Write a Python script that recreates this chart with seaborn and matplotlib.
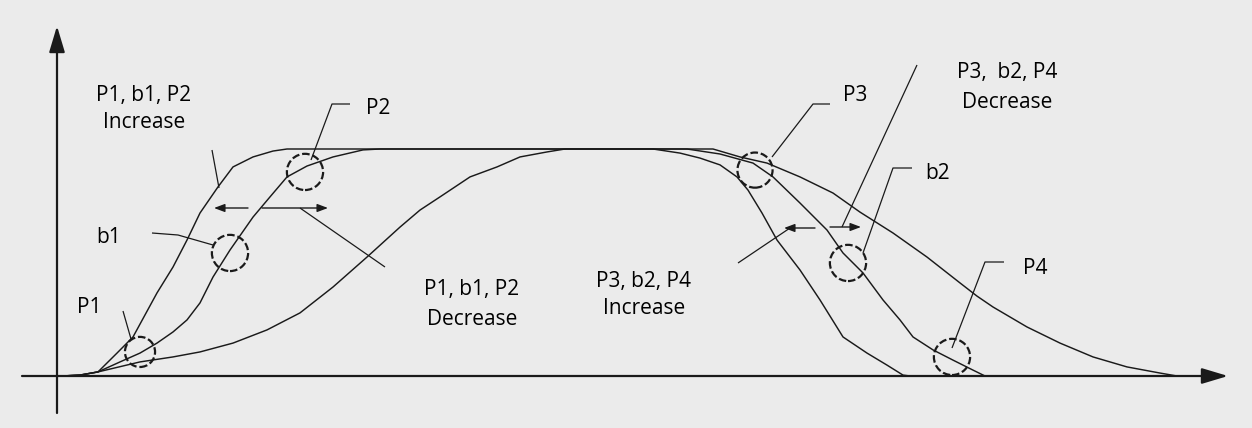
import matplotlib
matplotlib.use("Agg")
import matplotlib.pyplot as plt
import pandas as pd
import seaborn as sns

# Profile 1: steepest rise and steepest fall
rise_1_t = [0.4, 2.2, 4.0, 5.9, 7.5, 9.9, 11.5, 12.9, 14.2, 16.0, 17.5, 19.5, 21.5, 22.9]
rise_1_v = [0.0, 0.004, 0.018, 0.101, 0.172, 0.366, 0.480, 0.599, 0.718, 0.833, 0.921, 0.965, 0.991, 1.0]
fall_1_t = [59.5, 62.2, 64.2, 66.2, 67.9, 69.0, 70.4, 71.9, 74.2, 76.2, 78.5, 80.9, 82.9, 84.5, 85.2]
fall_1_v = [1.0, 0.982, 0.960, 0.930, 0.877, 0.819, 0.718, 0.599, 0.467, 0.335, 0.172, 0.101, 0.048, 0.004, 0.0]

# Profile 2: intermediate edges
rise_2_t = [0.4, 2.2, 4.0, 6.2, 8.2, 9.9, 11.5, 12.9, 14.2, 15.5, 17.2, 19.5, 21.2, 22.9, 24.9, 27.5, 30.5, 32.2]
rise_2_v = [0.0, 0.004, 0.018, 0.062, 0.101, 0.145, 0.194, 0.247, 0.322, 0.436, 0.555, 0.700, 0.789, 0.877, 0.925, 0.965, 0.996, 1.0]
fall_2_t = [62.9, 66.2, 69.5, 71.5, 74.2, 76.9, 78.5, 80.5, 82.5, 84.2, 85.5, 87.5, 89.5, 91.5, 92.7]
fall_2_v = [1.0, 0.978, 0.938, 0.877, 0.762, 0.643, 0.542, 0.454, 0.335, 0.247, 0.172, 0.115, 0.070, 0.026, 0.0]

# Profile 3: slowest rise and slowest fall
rise_3_t = [0.4, 2.2, 4.0, 8.2, 11.5, 14.2, 17.5, 20.9, 24.2, 27.5, 30.9, 34.2, 36.2, 38.2, 41.2, 43.9, 46.2, 48.9, 50.7]
rise_3_v = [0.0, 0.004, 0.018, 0.062, 0.084, 0.106, 0.145, 0.203, 0.278, 0.392, 0.524, 0.656, 0.731, 0.789, 0.877, 0.921, 0.965, 0.987, 1.0]
fall_3_t = [65.5, 68.2, 70.9, 74.2, 77.5, 80.2, 83.5, 86.9, 90.2, 91.9, 93.5, 96.9, 100.2, 103.5, 106.9, 110.2, 111.9]
fall_3_v = [1.0, 0.965, 0.938, 0.877, 0.806, 0.722, 0.630, 0.524, 0.410, 0.352, 0.304, 0.216, 0.145, 0.084, 0.040, 0.013, 0.0]

# Control points marked with dashed circles
point_names = ["P1", "b1", "P2", "P3", "b2", "P4"]
point_t = [8.2, 17.2, 24.7, 69.7, 79.0, 89.4]
point_v = [0.106, 0.542, 0.899, 0.907, 0.498, 0.084]

# Direction captions
caption_rise_up = ["P1, b1, P2", "Increase"]
caption_rise_down = ["P1, b1, P2", "Decrease"]
caption_fall_up = ["P3, b2, P4", "Increase"]
caption_fall_down = ["P3,  b2, P4", "Decrease"]

frames = []
for name, t, v in [
    ("profile 1", rise_1_t + fall_1_t, rise_1_v + fall_1_v),
    ("profile 2", rise_2_t + fall_2_t, rise_2_v + fall_2_v),
    ("profile 3", rise_3_t + fall_3_t, rise_3_v + fall_3_v),
]:
    frames.append(pd.DataFrame({"t": t, "level": v, "profile": name, "order": range(len(t))}))
profiles = pd.concat(frames, ignore_index=True)

sns.set_style("white")
plt.rcParams["font.family"] = ["Open Sans", "DejaVu Sans"]

BG = "#ebebeb"
INK = "#1a1a1a"

fig = plt.figure(figsize=(12.52, 4.28), dpi=100, facecolor=BG)
ax = fig.add_axes([0, 0, 1, 1])
ax.set_facecolor(BG)
ax.set_xlim(-5.8, 119.4)
ax.set_ylim(-52 / 227, 376 / 227)
ax.axis("off")


def at(x, y):
    """Layout helper: canvas grid position (origin top-left) -> data coordinates."""
    return ((x - 58) / 10, (376 - y) / 227)


def polyline(*pts, lw=0.9):
    xs, ys = zip(*[at(*p) for p in pts])
    ax.plot(xs, ys, color=INK, lw=lw, solid_capstyle="butt")


def arrow(start, end, scale=8, lw=1.0, head="-|>,head_length=0.8,head_width=0.3"):
    ax.annotate("", xy=at(*end), xytext=at(*start),
                arrowprops=dict(arrowstyle=head, mutation_scale=scale, lw=lw,
                                color=INK, shrinkA=0, shrinkB=0))


# coordinate axes with filled arrow heads
arrow((22, 376), (1228, 376), scale=20, lw=1.6, head="-|>,head_length=0.8,head_width=0.24")
arrow((57, 413), (57, 26), scale=20, lw=1.6, head="-|>,head_length=0.8,head_width=0.24")

# the three trapezoidal profiles
sns.lineplot(data=profiles, x="t", y="level", units="profile", estimator=None,
             sort=False, color=INK, lw=1.05, ax=ax, legend=False)

# dashed circles around control points
sizes = [470, 680, 680, 640, 680, 680]
sns.scatterplot(x=point_t, y=point_v, s=sizes, ax=ax, legend=False,
                facecolor="none", edgecolor=INK, linewidth=1.6)
circles = ax.collections[-1]
circles.set_facecolor("none")
circles.set_edgecolor(INK)
circles.set_linestyle((0, (3.4, 1.3)))

# point labels with leader lines
TXT = dict(ha="center", va="baseline", fontsize=15, color="black")
labels_pos = {"P1": (89, 313), "b1": (109, 243), "P2": (378, 114),
              "P3": (855, 101), "b2": (938, 179), "P4": (1035, 274)}
for name in point_names:
    ax.text(*at(*labels_pos[name]), name, **TXT)

polyline((123, 311), (131, 339))
polyline((152, 233), (178, 235), (213, 245))
polyline((350, 104), (332, 104), (311, 160))
polyline((830, 104), (813, 104), (772, 157))
polyline((912, 168), (893, 168), (863, 253))
polyline((1004, 262), (985, 262), (952, 348))


# captions
def caption(lines, cx, y1, y2):
    ax.text(*at(cx, y1), lines[0], **TXT)
    ax.text(*at(cx, y2), lines[1], **TXT)


caption(caption_rise_up, 144, 101, 128)
caption(caption_rise_down, 472, 295, 325)
caption(caption_fall_up, 644, 287, 314)
caption(caption_fall_down, 1007, 78, 108)

# shift arrows on the rising side
polyline((212, 150), (219, 188))
arrow((248, 208), (214, 208))
arrow((262, 208), (328, 208))
polyline((300, 208), (385, 267))

# shift arrows on the falling side
arrow((815, 228), (784, 228))
arrow((830, 227), (861, 227))
polyline((790, 228), (738, 263))
polyline((842, 227), (917, 65))

fig.savefig("out.png", dpi=100, facecolor=BG)
